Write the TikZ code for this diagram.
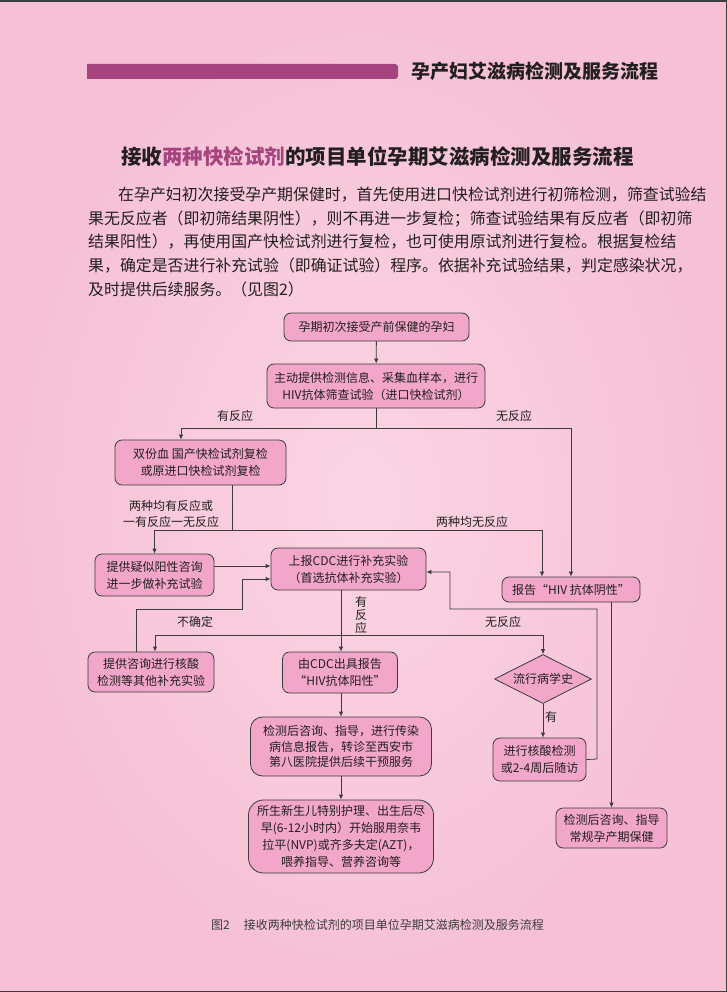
\documentclass[tikz,border=0pt]{standalone}
\usepackage{fontspec}
\usepackage{tikz}
\usetikzlibrary{arrows.meta,shapes.geometric}
\newfontfamily\cjk{Noto Sans CJK SC}

\definecolor{bgout}{RGB}{246,192,214}
\definecolor{bgin}{RGB}{251,213,228}
\definecolor{boxfill}{RGB}{242,166,201}
\definecolor{edge}{RGB}{60,60,60}
\definecolor{plum}{RGB}{165,68,127}
\definecolor{ink}{RGB}{35,31,32}

\tikzset{
  flowbox/.style={draw=edge, fill=boxfill, line width=0.8pt, rounded corners=7pt,
    align=center, inner sep=0pt, text=ink, font=\cjk\fontsize{12}{17}\selectfont},
  decision/.style={diamond, aspect=2, draw=edge, fill=boxfill, line width=0.8pt,
    inner sep=0pt, text=ink, font=\cjk\fontsize{12}{17}\selectfont},
  link/.style={draw=edge, line width=0.8pt},
  arr/.style={link, -{Latex[length=5pt,width=4.5pt]}},
  tag/.style={inner sep=0pt, text=ink, align=center, font=\cjk\fontsize{12}{16}\selectfont},
  para/.style={anchor=west, inner sep=0pt, text=ink, font=\cjk\fontsize{15.9}{20}\selectfont},
}

\begin{document}
\begin{tikzpicture}[x=1pt,y=-1pt]
    \useasboundingbox (0,0) rectangle (727,992);

    % Draw the page
    \shade[inner color=bgin, outer color=bgout] (0,0) rectangle (727,992);
    \draw[edge, line width=2pt] (0,1) -- (727,1);
    \draw[edge, line width=1pt] (726.5,0) -- (726.5,992);
    \draw[edge, line width=1pt] (0,991.5) -- (727,991.5);

    % Draw the running head
    \fill[plum] (87,64) [rounded corners=3pt] -- (398,64) -- (398,79) [sharp corners] -- (87,79) -- cycle;
    \node[anchor=west, inner sep=0pt, text=ink, font=\cjk\bfseries\fontsize{19}{19}\selectfont] (header) at (411,71) {孕产妇艾滋病检测及服务流程};

    % Draw the title and the text
    \node[inner sep=0pt, text=ink, font=\cjk\bfseries\fontsize{20.5}{21}\selectfont] (title) at (377.5,157)
        {接收\textcolor{plum}{两种快检试剂}的项目单位孕期艾滋病检测及服务流程};
    \node[para] (line1) at (118,195) {在孕产妇初次接受孕产期保健时，首先使用进口快检试剂进行初筛检测，筛查试验结};
    \node[para] (line2) at (88,218.5) {果无反应者（即初筛结果阴性），则不再进一步复检；筛查试验结果有反应者（即初筛};
    \node[para] (line3) at (88,242) {结果阳性），再使用国产快检试剂进行复检，也可使用原试剂进行复检。根据复检结};
    \node[para] (line4) at (88,265.5) {果，确定是否进行补充试验（即确证试验）程序。依据补充试验结果，判定感染状况，};
    \node[para] (line5) at (88,289) {及时提供后续服务。（见图2）};

    % Draw the boxes
    \node[flowbox, minimum width=185pt, minimum height=28pt] (start) at (376.5,327) {孕期初次接受产前保健的孕妇};
    \node[flowbox, minimum width=218pt, minimum height=44pt] (screen) at (376,386) {主动提供检测信息、采集血样本，进行\\HIV抗体筛查试验（进口快检试剂）};
    \node[flowbox, minimum width=171pt, minimum height=45pt] (recheck) at (200.5,462.5) {双份血 国产快检试剂复检\\或原进口快检试剂复检};
    \node[flowbox, minimum width=119pt, minimum height=42pt] (suspect) at (154.5,575) {提供疑似阳性咨询\\进一步做补充试验};
    \node[flowbox, minimum width=155pt, minimum height=42pt] (cdc) at (348.5,569) {上报CDC进行补充实验\\（首选抗体补充实验）};
    \node[flowbox, minimum width=138pt, minimum height=25pt] (negative) at (571,589.5) {报告“HIV 抗体阴性”};
    \node[flowbox, minimum width=126pt, minimum height=40pt] (nucleic) at (151,672) {提供咨询进行核酸\\检测等其他补充实验};
    \node[flowbox, minimum width=115pt, minimum height=41pt] (positive) at (340,672.5) {由CDC出具报告\\“HIV抗体阳性”};
    \node[decision, minimum width=97pt, minimum height=49pt] (history) at (543,679) {流行病学史};
    \node[flowbox, minimum width=93pt, minimum height=43pt] (followup) at (539.5,759.5) {进行核酸检测\\或2-4周后随访};
    \node[flowbox, rounded corners=12pt, minimum width=181pt, minimum height=59pt, font=\cjk\fontsize{12}{15.5}\selectfont] (refer) at (341,746.5)
        {检测后咨询、指导，进行传染\\病信息报告，转诊至西安市\\第八医院提供后续干预服务};
    \node[flowbox, rounded corners=15pt, minimum width=185pt, minimum height=73pt] (infant) at (341,836.5)
        {所生新生儿特别护理、出生后尽\\早(6-12小时内）开始服用奈韦\\拉平(NVP)或齐多夫定(AZT)，\\喂养指导、营养咨询等};
    \node[flowbox, minimum width=111pt, minimum height=40pt] (routine) at (611.5,828) {检测后咨询、指导\\常规孕产期保健};

    % Draw the junctions
    \coordinate (s1) at (181,428);
    \coordinate (s2) at (571,428);
    \coordinate (r0) at (232,530);
    \coordinate (r2) at (542,530);
    \coordinate (c0) at (341,635);
    \coordinate (c1) at (155,635);
    \coordinate (c2) at (543,635);
    \coordinate (n1) at (136,609);
    \coordinate (n2) at (242,579);
    \coordinate (f1) at (597,759);
    \coordinate (f2) at (450,609);
    \coordinate (f3) at (450,572);

    % Draw the connectors
    \draw[arr] (start) -- (screen);
    \draw[arr] (screen.south) |- (s1) -- (s1 |- recheck.north);
    \draw[arr] (screen.south) |- (s2) -- (s2 |- negative.north);
    \draw[arr] (recheck.south -| r0) -- (r0) -| (suspect.north);
    \draw[arr] (r0) -- (r2) -- (r2 |- negative.north);
    \draw[arr] ([yshift=9pt]suspect.east) -- ([yshift=9pt]suspect.east -| cdc.west);
    \draw[arr] (nucleic.north -| n1) -- (n1) -| (n2) -- (n2 -| cdc.west);
    \draw[arr] (followup.east) -- (f1) |- (f2) -- (f3) -- (f3 -| cdc.east);
    \draw[arr] (cdc.south -| c0) -- (c0 |- positive.north);
    \draw[arr] (c0) -- (c1) -- (c1 |- nucleic.north);
    \draw[arr] (c0) -- (c2) -- (history.north);
    \draw[arr] (history.south) -- (history.south |- followup.north);
    \draw[arr] (positive.south -| refer.north) -- (refer.north);
    \draw[arr] (refer.south) -- (infant.north);
    \draw[arr] (negative.south -| routine.north) -- (routine.north);

    % Draw the labels
    \node[tag] (yes1) at (235,416) {有反应};
    \node[tag] (no1) at (514,416) {无反应};
    \node[tag] (both) at (171,514) {两种均有反应或\\一有反应一无反应};
    \node[tag] (bothno) at (472,522) {两种均无反应};
    \node[tag, font=\cjk\fontsize{12}{13}\selectfont] (yes2) at (361,615) {有\\反\\应};
    \node[tag] (unsure) at (195,622) {不确定};
    \node[tag] (no2) at (503,622) {无反应};
    \node[tag] (yes3) at (551,717) {有};

    % Draw the caption
    \node[anchor=west, inner sep=0pt, text=edge, font=\cjk\fontsize{12}{12}\selectfont] (caption) at (211,925)
        {图2\hspace{14pt}接收两种快检试剂的项目单位孕期艾滋病检测及服务流程};
\end{tikzpicture}
\end{document}
